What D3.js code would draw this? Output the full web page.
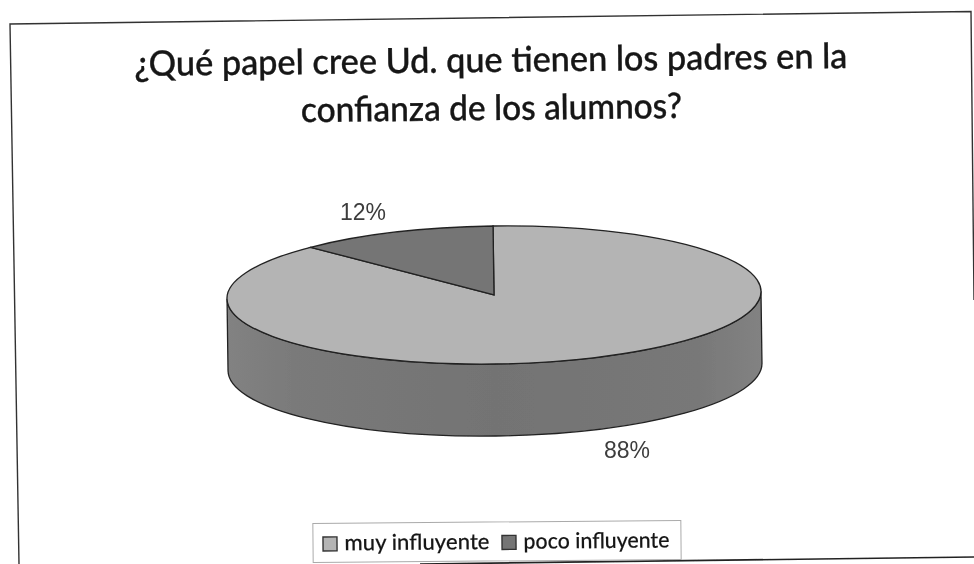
<!DOCTYPE html>
<html><head><meta charset="utf-8">
<script src="https://cdn.jsdelivr.net/npm/d3@7"></script>
<style>html,body{margin:0;padding:0;background:#fff}svg{display:block}</style></head>
<body><svg id="c" width="974" height="564"></svg>
<script>
const titleLines = ["¿Qué papel cree Ud. que tienen los padres en la", "confianza de los alumnos?"];
const categories = ["muy influyente", "poco influyente"];
const values = [88, 12];
const labels = ["88%", "12%"];
const colors = ["#b4b4b4", "#757575"];

const W = 974, H = 564;
const cx = 494, cy = 295, rx = 267, ry = 69, depth = 72;
const svg = d3.select("#c").attr("viewBox", [0, 0, W, H]);
const defs = svg.append("defs");
defs.append("filter").attr("id", "soft").attr("filterUnits", "userSpaceOnUse")
  .attr("x", 0).attr("y", 0).attr("width", W).attr("height", H)
  .append("feGaussianBlur").attr("stdDeviation", 0.6);
const grad = defs.append("linearGradient").attr("id", "side");
[[0, "#828282"], [0.12, "#7a7a7a"], [0.5, "#737373"], [0.88, "#787878"], [1, "#828282"]]
  .forEach(([o, c]) => grad.append("stop").attr("offset", o).attr("stop-color", c));

const root = svg.append("g").attr("filter", "url(#soft)");

// scanned frame
root.append("path")
  .attr("d", "M974,300 L971,11.5 L10,24 L19,564")
  .attr("fill", "none").attr("stroke", "#333").attr("stroke-width", 1.4);
root.append("path")
  .attr("d", "M420,564 L974,557")
  .attr("fill", "none").attr("stroke", "#222").attr("stroke-width", 1.6);

// title
const titleWidths = [713, 381];
root.append("g").attr("transform", "rotate(-0.64 491 72)")
  .selectAll("text").data(titleLines).join("text")
  .attr("x", 491).attr("y", (d, i) => 72 + i * 48)
  .attr("text-anchor", "middle")
  .attr("font-family", "Lato").attr("font-weight", 500).attr("font-size", 35)
  .attr("textLength", (d, i) => titleWidths[i]).attr("lengthAdjust", "spacingAndGlyphs")
  .attr("fill", "#151515").attr("stroke", "#151515").attr("stroke-width", 0.35).text(d => d);

// pie
const pieGen = d3.pie().value(d => d).sort(null).startAngle(0).endAngle(2 * Math.PI);
const arcs = pieGen(values);
const pie = root.append("g").attr("transform", `rotate(-0.8 ${cx} ${cy})`);
pie.append("path")
  .attr("d", `M${cx - rx},${cy} L${cx - rx},${cy + depth} A${rx},${ry} 0 0 0 ${cx + rx},${cy + depth} L${cx + rx},${cy} A${rx},${ry} 0 0 1 ${cx - rx},${cy} Z`)
  .attr("fill", "url(#side)").attr("stroke", "#222").attr("stroke-width", 1.3);

const arcGen = d3.arc().innerRadius(0).outerRadius(rx);
pie.append("g").attr("transform", `translate(${cx},${cy}) scale(1,${ry / rx})`)
  .selectAll("path").data(arcs).join("path")
  .attr("d", arcGen)
  .attr("fill", (d, i) => colors[i])
  .attr("stroke", "#222").attr("stroke-width", 1.3)
  .attr("vector-effect", "non-scaling-stroke");

// data labels
const labelPos = [[627, 458], [363, 220]];
root.selectAll("text.lab").data(labels).join("text").attr("class", "lab")
  .attr("x", (d, i) => labelPos[i][0]).attr("y", (d, i) => labelPos[i][1])
  .attr("text-anchor", "middle")
  .attr("font-family", "Liberation Sans").attr("font-size", 23)
  .attr("fill", "#3c3c3c").text(d => d);

// legend
const lg = root.append("g").attr("transform", "rotate(-0.5 497 541)");
lg.append("rect").attr("x", 313).attr("y", 522).attr("width", 368).attr("height", 39)
  .attr("fill", "#fff").attr("stroke", "#aaa").attr("stroke-width", 1);
const legX = [323, 502];
const legW = [145, 146];
const item = lg.selectAll("g").data(categories).join("g")
  .attr("transform", (d, i) => `translate(${legX[i]},0)`);
item.append("rect").attr("x", 0).attr("y", 535.5).attr("width", 14).attr("height", 14)
  .attr("fill", (d, i) => colors[i]).attr("stroke", "#333").attr("stroke-width", 1.4);
item.append("text").attr("x", 21.5).attr("y", 549)
  .attr("font-family", "Lato").attr("font-weight", 500).attr("font-size", 22)
  .attr("textLength", (d, i) => legW[i]).attr("lengthAdjust", "spacingAndGlyphs")
  .attr("fill", "#151515").attr("stroke", "#151515").attr("stroke-width", 0.15).text(d => d);
</script></body></html>
